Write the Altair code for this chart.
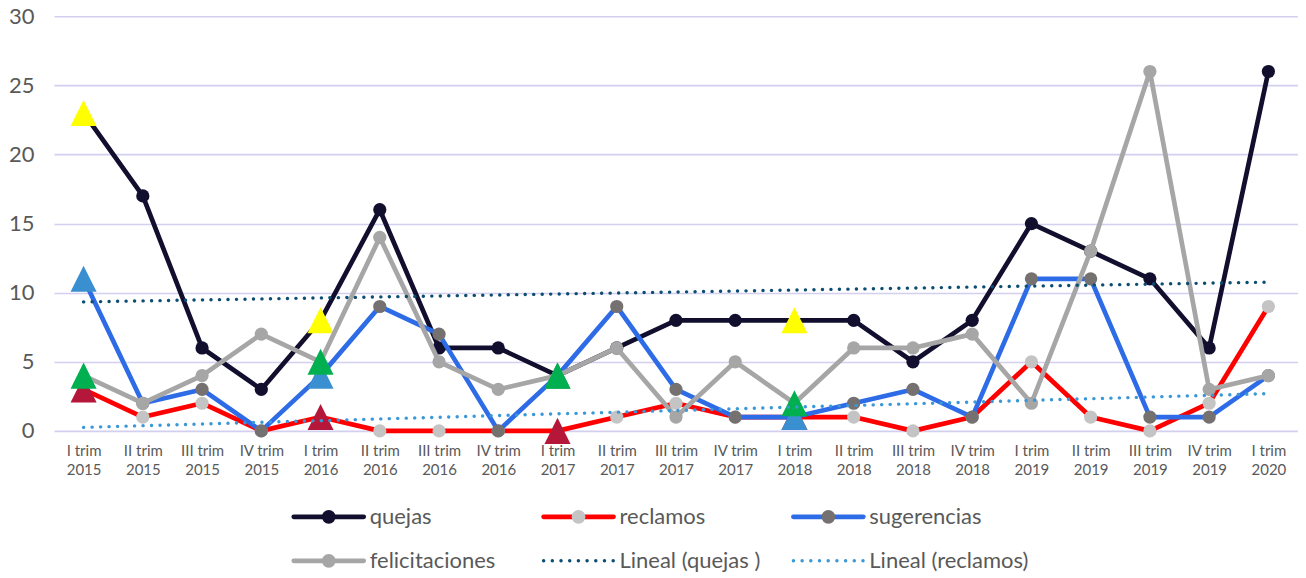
import altair as alt
import pandas as pd

# ---------------- data ----------------
categories = [
    "I trim 2015", "II trim 2015", "III trim 2015", "IV trim 2015",
    "I trim 2016", "II trim 2016", "III trim 2016", "IV trim 2016",
    "I trim 2017", "II trim 2017", "III trim 2017", "IV trim 2017",
    "I trim 2018", "II trim 2018", "III trim 2018", "IV trim 2018",
    "I trim 2019", "II trim 2019", "III trim 2019", "IV trim 2019",
    "I trim 2020",
]
quejas = [23, 17, 6, 3, 8, 16, 6, 6, 4, 6, 8, 8, 8, 8, 5, 8, 15, 13, 11, 6, 26]
reclamos = [3, 1, 2, 0, 1, 0, 0, 0, 0, 1, 2, 1, 1, 1, 0, 1, 5, 1, 0, 2, 9]
sugerencias = [11, 2, 3, 0, 4, 9, 7, 0, 4, 9, 3, 1, 1, 2, 3, 1, 11, 11, 1, 1, 4]
felicitaciones = [4, 2, 4, 7, 5, 14, 5, 3, 4, 6, 1, 5, 2, 6, 6, 7, 2, 13, 26, 3, 4]
highlighted = ["I trim 2015", "I trim 2016", "I trim 2017", "I trim 2018"]
series_names = ["quejas", "reclamos", "sugerencias", "felicitaciones"]
trend_series = ["quejas", "reclamos"]
legend_labels = ["quejas", "reclamos", "sugerencias", "felicitaciones",
                 "Lineal (quejas )", "Lineal (reclamos)"]
y_ticks = [0, 5, 10, 15, 20, 25, 30]

# ---------------- styles ----------------
FONT = "Lato"
TEXT_COLOR = "#595959"
GRID_COLOR = "#d3cfef"
LINE_COLORS = {"quejas": "#120f2e", "reclamos": "#ff0000",
               "sugerencias": "#2e6be6", "felicitaciones": "#a6a6a6"}
MARKER_COLORS = {"quejas": "#120f2e", "reclamos": "#c4c4c4",
                 "sugerencias": "#767171", "felicitaciones": "#a6a6a6"}
TRI_COLORS = {"quejas": "#ffff00", "reclamos": "#b5173a",
              "sugerencias": "#3a8fd0", "felicitaciones": "#00b050"}
TREND_COLORS = {"quejas": "#0c4e72", "reclamos": "#3a98d8"}
TRI_PATH = "M0,-1L1,1L-1,1Z"
LINE_PATH = "M-1,0L1,0"
PLOT_W, PLOT_H = 1245, 415

# ---------------- long table ----------------
rows = []
for s, vals in zip(series_names, [quejas, reclamos, sugerencias, felicitaciones]):
    for i, (c, v) in enumerate(zip(categories, vals)):
        rows.append({"series": s, "idx": i + 1, "cat": c, "value": v,
                     "hl": c in highlighted})
df = pd.DataFrame(rows)

cats_js = "[" + ",".join("'" + c + "'" for c in categories) + "]"
label_expr = ("[slice({a}[datum.value-1], 0, -5), slice({a}[datum.value-1], -4)]"
              .format(a=cats_js))

x = alt.X("idx:Q",
          scale=alt.Scale(domain=[0.5, len(categories) + 0.5], nice=False, zero=False),
          axis=alt.Axis(values=list(range(1, len(categories) + 1)), labelExpr=label_expr,
                        title=None, grid=False, domain=False, ticks=False,
                        labelFontSize=15, labelColor=TEXT_COLOR, labelFont=FONT,
                        labelPadding=13, labelLineHeight=19))
y = alt.Y("value:Q",
          scale=alt.Scale(domain=[0, 30], nice=False),
          axis=alt.Axis(values=y_ticks, title=None, domain=False, ticks=False,
                        gridColor=GRID_COLOR, gridWidth=1.6,
                        labelFontSize=22, labelColor=TEXT_COLOR, labelFont=FONT,
                        labelPadding=20))

layers = []
for s in series_names:
    base = alt.Chart(df).transform_filter(alt.datum.series == s)
    layers.append(base.mark_line(color=LINE_COLORS[s], strokeWidth=4.7,
                                 strokeJoin="round", strokeCap="round")
                  .encode(x=x, y=y))
    layers.append(base.transform_filter("!datum.hl")
                  .mark_circle(size=175, color=MARKER_COLORS[s], opacity=1)
                  .encode(x=x, y=y))
    layers.append(base.transform_filter("datum.hl")
                  .mark_point(shape=TRI_PATH, size=680, filled=True,
                              color=TRI_COLORS[s], opacity=1, strokeWidth=0)
                  .encode(x=x, y=y))
for s in trend_series:
    layers.append(alt.Chart(df).transform_filter(alt.datum.series == s)
                  .transform_regression("idx", "value")
                  .mark_line(color=TREND_COLORS[s], strokeWidth=3.4,
                             strokeDash=[0.1, 8.4], strokeCap="round")
                  .encode(x=x, y=y))

main = alt.layer(*layers).properties(width=PLOT_W, height=PLOT_H)

# ---------------- legend (data driven) ----------------
LEG_W, LEG_H = 1000, 66
COL_STEP, ROW_STEP = 250, 44
FIRST_COL_PX, FIRST_ROW_PX = 275, 23
leg_df = pd.DataFrame({"label": legend_labels, "k": list(range(len(legend_labels)))})
d0 = -FIRST_COL_PX / COL_STEP
lx = alt.X("col:Q", scale=alt.Scale(domain=[d0, d0 + LEG_W / COL_STEP], nice=False, zero=False),
           axis=None)
r0 = -FIRST_ROW_PX / ROW_STEP
ly = alt.Y("row:Q", scale=alt.Scale(domain=[r0, r0 + LEG_H / ROW_STEP], nice=False,
                                    zero=False, reverse=True), axis=None)
stroke_scale = alt.Scale(domain=legend_labels,
                         range=[LINE_COLORS[s] for s in series_names]
                         + [TREND_COLORS[s] for s in trend_series])
fill_scale = alt.Scale(domain=series_names, range=[MARKER_COLORS[s] for s in series_names])

leg_base = alt.Chart(leg_df).transform_calculate(
    col="datum.k % 3", row="floor(datum.k / 3)")
leg_lines = leg_base.transform_filter("datum.k < 4").mark_point(
    shape=LINE_PATH, size=4900, strokeWidth=4.7, strokeCap="round", opacity=1
).encode(x=lx, y=ly, stroke=alt.Stroke("label:N", scale=stroke_scale, legend=None))
leg_dots = leg_base.transform_filter("datum.k < 4").mark_circle(
    size=190, opacity=1
).encode(x=lx, y=ly, fill=alt.Fill("label:N", scale=fill_scale, legend=None))
leg_trend = leg_base.transform_filter("datum.k >= 4").mark_point(
    shape=LINE_PATH, size=4900, strokeWidth=3.4, strokeCap="round",
    strokeDash=[0.1, 8.6], opacity=1
).encode(x=lx, y=ly, stroke=alt.Stroke("label:N", scale=stroke_scale, legend=None))
leg_text = leg_base.mark_text(
    align="left", baseline="middle", dx=41, fontSize=22, font=FONT, color=TEXT_COLOR
).encode(x=lx, y=ly, text="label:N")

legend_chart = alt.layer(leg_lines, leg_dots, leg_trend, leg_text).properties(
    width=LEG_W, height=LEG_H)

chart = alt.vconcat(main, legend_chart, spacing=16).properties(
    padding={"left": 0, "top": -3, "right": 0, "bottom": 0},
    background="white",
).configure(font=FONT).configure_view(strokeWidth=0, stroke=None)

chart.save("out.html", embed_options={"renderer": "svg", "actions": False})
